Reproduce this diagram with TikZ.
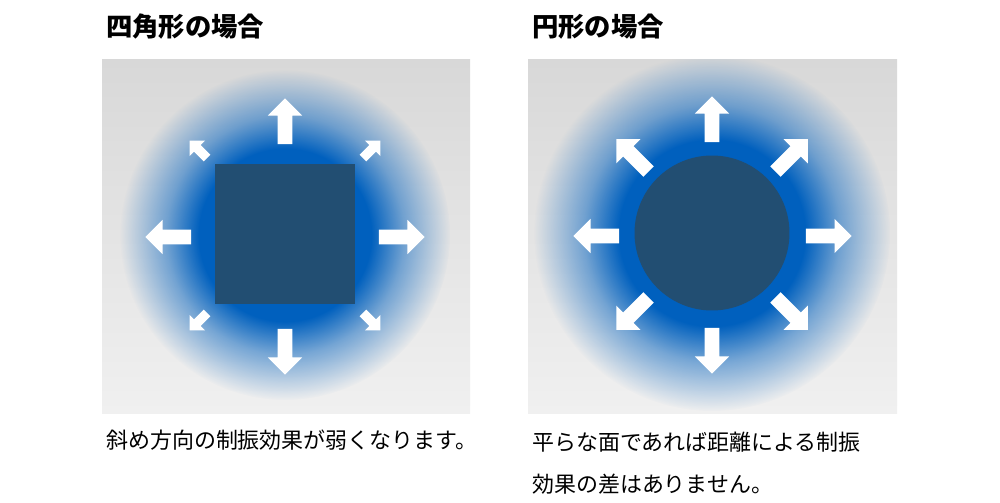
\documentclass[tikz,border=0pt]{standalone}
\usepackage{fontspec}
\setmainfont{Noto Sans CJK JP}
\usetikzlibrary{shapes.arrows,fadings}
\definecolor{glowblue}{RGB}{0,96,190}
\definecolor{bodyblue}{RGB}{34,78,114}
\pgfdeclareradialshading{glowshade}{\pgfpointorigin}{color(0bp)=(white); color(13bp)=(white); color(18bp)=(white!50!black); color(25bp)=(black); color(50bp)=(black)}
\pgfdeclarefading{glowfade}{\pgfuseshading{glowshade}}
\begin{document}
\begin{tikzpicture}[x=0.02cm,y=-0.02cm]
	\tikzstyle{push}=[single arrow,fill=white,draw=none,single arrow head extend=5.5pt,inner sep=4pt,minimum height=26pt]
	\tikzstyle{nudge}=[push,single arrow head extend=3.5pt,inner sep=2.5pt,minimum height=14pt]
	\tikzstyle{panel}=[top color={rgb,255:red,216;green,216;blue,216},bottom color={rgb,255:red,240;green,240;blue,240}]
	\tikzstyle{glow}=[fill=glowblue,path fading=glowfade]
	\useasboundingbox (0,0) rectangle (1000,503);
	\fill[white] (0,0) rectangle (1000,503);
	% left panel
	\shade[panel] (102,60) rectangle (470,413);
	\begin{scope}
		\clip (102,60) rectangle (470,413);
		\fill[glow] (285,235) circle (165);
	\end{scope}
	\node[fill=bodyblue,minimum size=2.8cm,inner sep=0pt] (sq) at (285,234) {};
	\node[push,rotate=90] (lu) at (285,125) {};
	\node[push,rotate=-90] (ld) at (285,348) {};
	\node[push,rotate=180] (ll) at (172,237) {};
	\node[push] (lr) at (398,237) {};
	\node[nudge,rotate=135] (lul) at (200,151) {};
	\node[nudge,rotate=45] (lur) at (370,151) {};
	\node[nudge,rotate=-135] (ldl) at (200,320) {};
	\node[nudge,rotate=-45] (ldr) at (370,320) {};
	% right panel
	\shade[panel] (528,60) rectangle (897,413);
	\begin{scope}
		\clip (528,60) rectangle (897,413);
		\fill[glow] (712,233) circle (178);
	\end{scope}
	\node[circle,fill=bodyblue,minimum size=3.1cm,inner sep=0pt] (ci) at (712,233) {};
	\node[push,rotate=90] (ru) at (712,123) {};
	\node[push,rotate=-90] (rd) at (712,347) {};
	\node[push,rotate=180] (rl) at (600,236) {};
	\node[push] (rr) at (825,236) {};
	\node[push,rotate=135] (rul) at (635,158) {};
	\node[push,rotate=45] (rur) at (789,158) {};
	\node[push,rotate=-135] (rdl) at (635,311) {};
	\node[push,rotate=-45] (rdr) at (789,311) {};
	% texts
	\node[anchor=west,font=\bfseries\fontsize{15}{18}\selectfont] (t1) at (100,27) {四角形の場合};
	\node[anchor=west,font=\bfseries\fontsize{15}{18}\selectfont] (t2) at (526,27) {円形の場合};
	\node[anchor=west,font=\fontsize{12.5}{18}\selectfont] (c1) at (100,440) {斜め方向の制振効果が弱くなります。};
	\node[anchor=north west,align=left,font=\fontsize{12.5}{24}\selectfont] (c2) at (526,426) {平らな面であれば距離による制振\\効果の差はありません。};
\end{tikzpicture}
\end{document}
